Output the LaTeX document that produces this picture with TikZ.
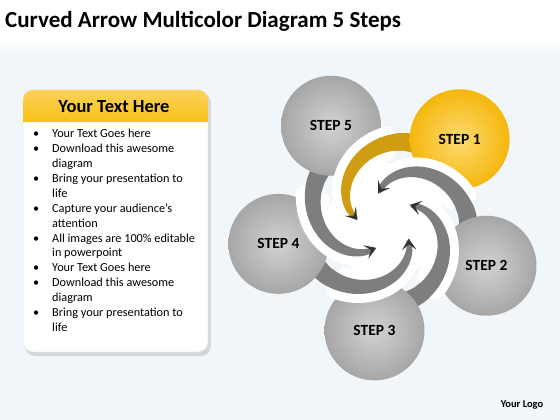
\documentclass[tikz,border=0pt]{standalone}
\usepackage{fontspec}
\setmainfont{Carlito}
\usetikzlibrary{arrows.meta}
\definecolor{bgblue}{HTML}{F0F6F9}
\definecolor{stepgray}{HTML}{A6A6A6}
\definecolor{stepgraylt}{HTML}{D2D2D2}
\definecolor{armgray}{HTML}{7E7E7E}
\definecolor{stepgold}{HTML}{F5B70C}
\definecolor{stepgoldlt}{HTML}{FBDA72}
\definecolor{armgold}{HTML}{D09C12}
\definecolor{headgold}{HTML}{F8C118}
\definecolor{headgoldlt}{HTML}{FCD25A}
\definecolor{tipdark}{HTML}{333333}
\tikzset{
    stepcircle/.style = {circle, minimum size=100pt, inner sep=0pt,
        font=\bfseries\fontsize{15.5}{16}\selectfont},
    graystep/.style = {stepcircle, shading=radial,
        inner color=stepgraylt, outer color=stepgray},
    goldstep/.style = {stepcircle, shading=radial,
        inner color=stepgoldlt, outer color=stepgold},
    listtext/.style = {anchor=base west, inner sep=0pt,
        font=\fontsize{12.25}{14}\selectfont},
    armtip/.style = {tipdark, line width=0.01pt,
        -{Stealth[length=11pt,width=14pt,inset=5.5pt]}}
}
% radius of an arm at angle offset #1
\newcommand{\armr}[1]{(82-50*((#1-25)/100)*(abs((#1-25)/100)+0.0001)^0.3)}
% arm of one step: base angle, first angle offset
\newcommand{\armshape}[2]{plot[domain=#2:125, samples=50, variable=\p]
    ({#1+\p}:{\armr{\p}+10-6*(\p-10)/115})
    -- plot[domain=125:#2, samples=50, variable=\p]
    ({#1+\p}:{\armr{\p}-10+6*(\p-10)/115}) -- cycle}

\begin{document}
\begin{tikzpicture}[x=1pt,y=-1pt]
\useasboundingbox (0,0) rectangle (560,420);
% background
\fill[bgblue] (0,0) rectangle (560,420);
\fill[white] (0,0) rectangle (560,36);
\fill[top color=white, bottom color=bgblue] (0,36) rectangle (560,58);
\node[anchor=base west, inner sep=0pt, font=\bfseries\fontsize{23}{24}\selectfont]
    (title) at (5,28) {Curved Arrow Multicolor Diagram 5 Steps};

% text panel
\fill[black, opacity=.12, rounded corners=10] (25,93) rectangle (211,356);
\fill[white, draw=gray!25, rounded corners=10] (23,90) rectangle (208,352);
\shade[top color=headgoldlt, bottom color=headgold] (23,122) [rounded corners=10]
    -- (23,90) -- (208,90) [sharp corners] -- (208,122) -- cycle;
\node[font=\bfseries\fontsize{18.5}{19}\selectfont] (head) at (114,107) {Your Text Here};
\foreach \m/\txt [count=\i] in {1/Your Text Goes here, 1/Download this awesome,
    0/diagram, 1/Bring your presentation to, 0/life, 1/Capture your audience’s,
    0/attention, 1/All images are 100\% editable, 0/in powerpoint,
    1/Your Text Goes here, 1/Download this awesome, 0/diagram,
    1/Bring your presentation to, 0/life}{
    \node[listtext] (l\i) at (52,122.8+14.9*\i) {\txt};
    \ifnum\m=1 \node[listtext] (b\i) at (33,122.8+14.9*\i) {\textbullet}; \fi
}

% curved arrows
\begin{scope}[shift={(386,221)}, y=1pt]
    \coordinate (c) at (0,0);
    % arm roots, under the circles
    \foreach \a/\col in {48/armgold,336/armgray,264/armgray,192/armgray,120/armgray}
        \fill[\col] \armshape{\a}{17};
    \node[goldstep] (s1) at (48:110) {STEP 1};
    \node[graystep] (s2) at (336:110) {STEP 2};
    \node[graystep] (s3) at (264:110) {STEP 3};
    \node[graystep] (s4) at (192:110) {STEP 4};
    \node[graystep] (s5) at (120:110) {STEP 5};
    \fill[white] (c) circle (58);
    \foreach \a in {48,336,264,192,120}
        \filldraw[white, line width=18pt, line join=round] \armshape{\a}{42};
    \foreach \a/\col in {48/armgold,336/armgray,264/armgray,192/armgray,120/armgray}
        \fill[\col] \armshape{\a}{30};
    \foreach \a in {48,336,264,192,120}
        \draw[armtip] ({\a+116}:{\armr{116}}) -- ({\a+130}:{\armr{130}});
\end{scope}

\node[font=\bfseries\fontsize{10.5}{11}\selectfont] (logo) at (522,405) {Your Logo};
\end{tikzpicture}
\end{document}
